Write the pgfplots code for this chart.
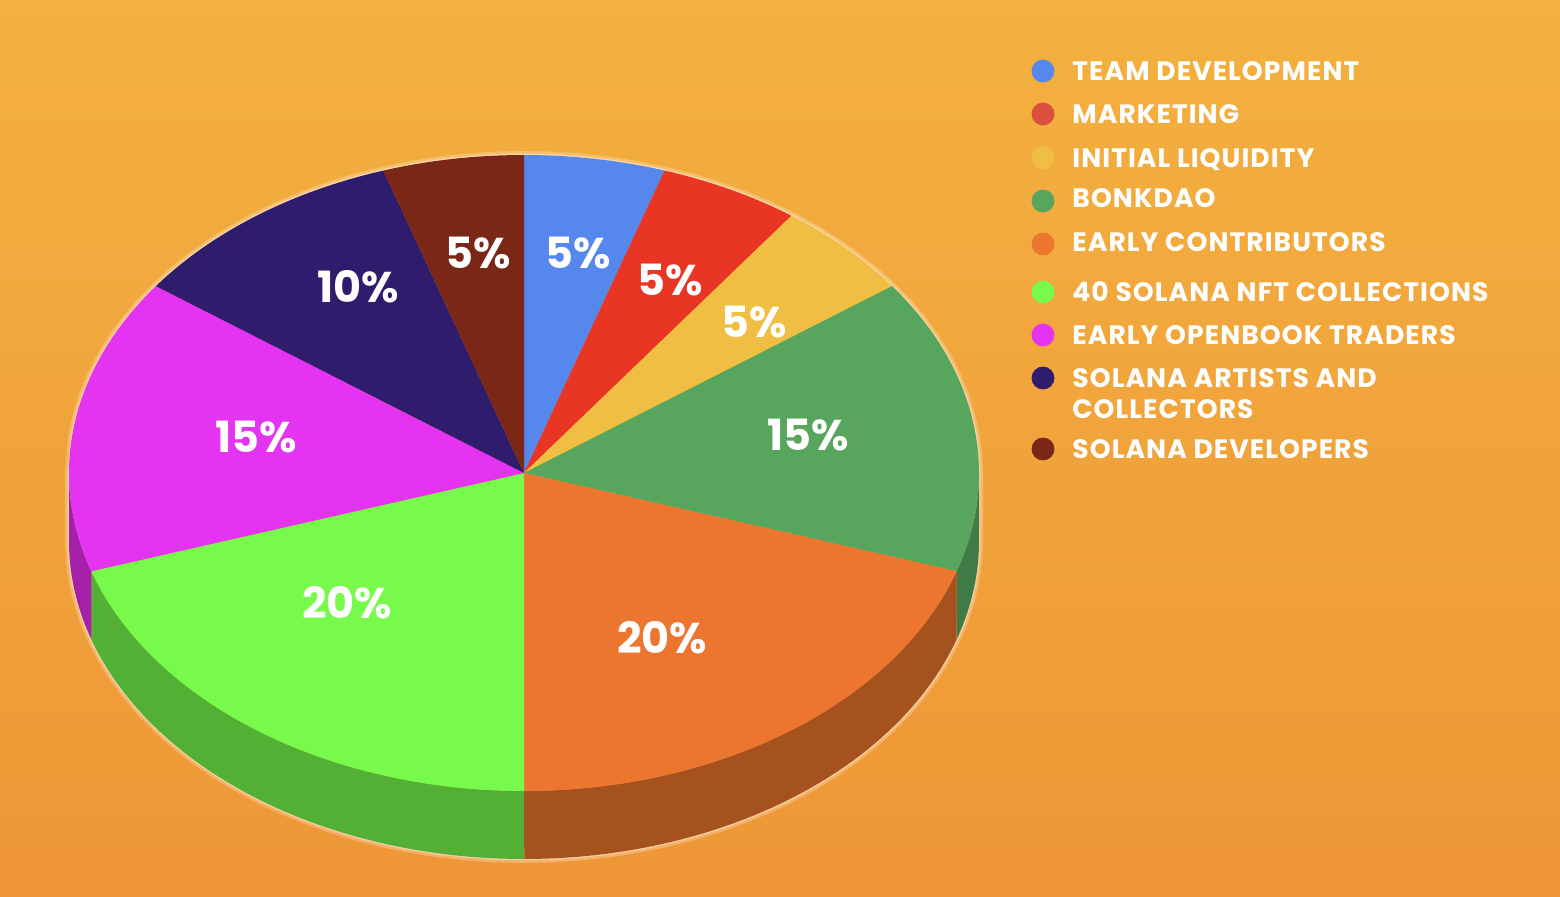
\documentclass[border=0pt]{standalone}
\usepackage{pgfplots}
\pgfplotsset{compat=1.18}
\usepackage{pgfplotstable}
\usepackage{fontspec}
\setmainfont{Poppins}
\newfontfamily\pop[LetterSpace=4]{Poppins}
\newfontfamily\popn{Poppins}

\definecolor{bgTop}{HTML}{F3B13F}
\definecolor{bgBot}{HTML}{EF9637}
\definecolor{cBlue}{HTML}{5587EC}
\definecolor{cRed}{HTML}{E83524}
\definecolor{cYellow}{HTML}{EFBE42}
\definecolor{cGreen}{HTML}{58A65E}
\definecolor{cOrange}{HTML}{EC7530}
\definecolor{cLime}{HTML}{77FA4B}
\definecolor{cMag}{HTML}{E533F2}
\definecolor{cPurp}{HTML}{301C6C}
\definecolor{cBrown}{HTML}{7A2718}
\definecolor{sBlue}{HTML}{3A5FA8}
\definecolor{sRed}{HTML}{A32519}
\definecolor{sYellow}{HTML}{A8852E}
\definecolor{sGreen}{HTML}{3E7B47}
\definecolor{sOrange}{HTML}{A5521E}
\definecolor{sLime}{HTML}{52B034}
\definecolor{sMag}{HTML}{A520A8}
\definecolor{sPurp}{HTML}{20124A}
\definecolor{sBrown}{HTML}{551B10}
\definecolor{lRed}{HTML}{D9503F}

% share (percent), top colour, side colour, label position (px)
\pgfplotstableread[col sep=comma]{
value,top,side,lx,ly
5,cBlue,sBlue,578,253
5,cRed,sRed,670,280
5,cYellow,sYellow,754,322
15,cGreen,sGreen,808,435
20,cOrange,sOrange,662,638
20,cLime,sLime,347,603
15,cMag,sMag,256,437
10,cPurp,sPurp,358,287
5,cBrown,sBrown,478,253
}\piedata

\tikzset{
  pct/.style={font=\popn\bfseries\fontsize{21.5}{21.5}\selectfont, text=white, inner sep=0pt},
  leg/.style={font=\pop\bfseries\fontsize{13.3}{13.3}\selectfont, text=white, inner sep=0pt, anchor=base west},
}

\begin{document}
\begin{tikzpicture}
\shade[top color=bgTop, bottom color=bgBot] (0,0) rectangle (780pt,448pt);
\begin{axis}[at={(0,0)}, anchor=south west, scale only axis,
  width=780pt, height=448pt,
  xmin=0, xmax=1560, ymin=0, ymax=896, y dir=reverse,
  hide axis, clip=false]

% glow around the silhouette
\addplot[draw=white, draw opacity=0.25, line width=4pt, fill=none,
  samples at={0,0.02,...,0.98,1,1.0001,1.02,1.04,...,2}]
  ({524+455*cos(180*x)},{473-318*sin(180*x)+68*(x>1)}) -- cycle;
\addplot[draw=white, draw opacity=0.35, line width=1.5pt, fill=none,
  samples at={0,0.02,...,0.98,1,1.0001,1.02,1.04,...,2}]
  ({524+455*cos(180*x)},{473-318*sin(180*x)+68*(x>1)}) -- cycle;

\def\angstart{90}
\pgfplotsforeachungrouped \i in {0,...,8}{%
  \pgfplotstablegetelem{\i}{value}\of\piedata \let\val\pgfplotsretval
  \pgfplotstablegetelem{\i}{top}\of\piedata \let\topc\pgfplotsretval
  \pgfplotstablegetelem{\i}{side}\of\piedata \let\sidec\pgfplotsretval
  \pgfplotstablegetelem{\i}{lx}\of\piedata \let\lx\pgfplotsretval
  \pgfplotstablegetelem{\i}{ly}\of\piedata \let\ly\pgfplotsretval
  \pgfmathsetmacro{\angend}{\angstart-3.6*\val}%
  \pgfmathsetmacro{\lo}{max(\angend,-180)}%
  \pgfmathsetmacro{\hi}{min(\angstart,0)}%
  \pgfmathtruncatemacro{\hasside}{\hi>\lo}%
  \ifnum\hasside=1
    \edef\temp{\noexpand\addplot[fill=\sidec, draw=none,
      samples at={0,0.02,...,0.98,1,1.0001,1.02,1.04,...,2}]
      ({524+455*cos(\lo+(\hi-\lo)*(1-abs(1-x)))},{473-318*sin(\lo+(\hi-\lo)*(1-abs(1-x)))+68*(x>1)}) -- cycle;}%
    \temp
  \fi
  \edef\temp{\noexpand\addplot[fill=\topc, draw=none, domain=\angend:\angstart, samples=60]
      ({524+455*cos(x)},{473-318*sin(x)}) -- (axis cs:524,473) -- cycle;}%
  \temp
  \edef\temp{\noexpand\node[pct] at (axis cs:\lx,\ly) {\val\noexpand\%};}%
  \temp
  \global\let\angstart\angend
}

% legend markers
\addplot[only marks, mark=*, mark size=5.5pt, color=cBlue] coordinates {(1043,71)};
\addplot[only marks, mark=*, mark size=5.5pt, color=lRed] coordinates {(1043,114)};
\addplot[only marks, mark=*, mark size=5.5pt, color=cYellow] coordinates {(1043,158)};
\addplot[only marks, mark=*, mark size=5.5pt, color=cGreen] coordinates {(1043,201)};
\addplot[only marks, mark=*, mark size=5.5pt, color=cOrange] coordinates {(1043,244)};
\addplot[only marks, mark=*, mark size=5.5pt, color=cLime] coordinates {(1043,292)};
\addplot[only marks, mark=*, mark size=5.5pt, color=cMag] coordinates {(1043,335)};
\addplot[only marks, mark=*, mark size=5.5pt, color=cPurp] coordinates {(1043,378)};
\addplot[only marks, mark=*, mark size=5.5pt, color=cBrown] coordinates {(1043,449)};

\node[leg] at (axis cs:1072,80) {TEAM DEVELOPMENT};
\node[leg] at (axis cs:1072,123) {MARKETING};
\node[leg] at (axis cs:1072,167) {INITIAL LIQUIDITY};
\node[leg] at (axis cs:1072,207) {BONKDAO};
\node[leg] at (axis cs:1072,251) {EARLY CONTRIBUTORS};
\node[leg] at (axis cs:1072,301) {40 SOLANA NFT COLLECTIONS};
\node[leg] at (axis cs:1072,344) {EARLY OPENBOOK TRADERS};
\node[leg] at (axis cs:1072,387) {SOLANA ARTISTS AND};
\node[leg] at (axis cs:1072,418) {COLLECTORS};
\node[leg] at (axis cs:1072,458) {SOLANA DEVELOPERS};
\end{axis}
\pgfresetboundingbox
\path[use as bounding box] (0,0) rectangle (780pt,448pt);
\end{tikzpicture}
\end{document}
